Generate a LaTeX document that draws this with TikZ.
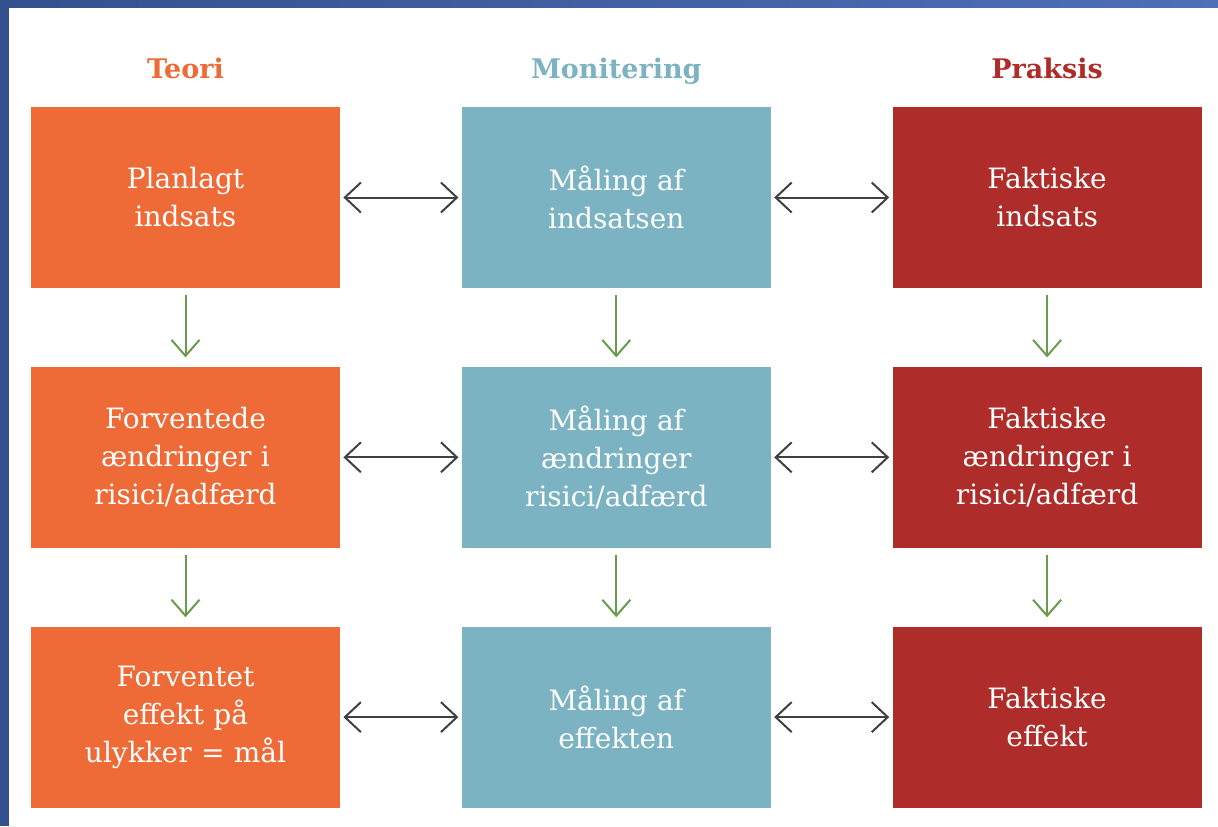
\documentclass[tikz,border=0pt]{standalone}
\usepackage{fontspec}
\setmainfont{DejaVu Serif}
\usetikzlibrary{positioning,arrows.meta}
\definecolor{teoricol}{HTML}{EE6A36}
\definecolor{monicol}{HTML}{7BB3C2}
\definecolor{prakcol}{HTML}{AE2D2A}
\definecolor{pilgreen}{HTML}{6A9A4C}
\definecolor{pilgray}{HTML}{404040}
\definecolor{framedark}{HTML}{34508F}
\definecolor{framelight}{HTML}{4F6FB6}
\tikzset{
box/.style={
  rectangle, minimum width=154.5pt, minimum height=90.5pt,
  text width=150pt, align=center, text=white,
  font=\fontsize{14}{19}\selectfont, inner sep=0pt
  },
teori/.style={box, fill=teoricol},
moni/.style={box, fill=monicol},
prak/.style={box, fill=prakcol},
head/.style={font=\bfseries\fontsize{13.5}{16}\selectfont, anchor=base},
both/.style={{Straight Barb[length=8pt,width=15pt]}-{Straight Barb[length=8pt,width=15pt]},
  line width=1pt, draw=pilgray, shorten >=1.5pt, shorten <=1.5pt},
down/.style={-{Straight Barb[length=8pt,width=14pt]},
  line width=1pt, draw=pilgreen, shorten >=4.5pt, shorten <=3.5pt}
}

\begin{document}
\begin{tikzpicture}
\useasboundingbox (0,0) rectangle (609pt,-413pt);

% frame
\fill[left color=framedark, right color=framelight] (0,0) rectangle (609pt,-3.5pt);
\fill[framedark] (0,0) rectangle (4.5pt,-413pt);

% row 1
\node[teori] (T1) at (92.75pt,-98.75pt) {Planlagt\\indsats};
\node[moni, right=60.5pt of T1] (M1) {Måling af\\indsatsen};
\node[prak, right=60.5pt of M1] (P1) {Faktiske\\indsats};

% row 2
\node[teori, below=39pt of T1] (T2) {Forventede\\ændringer i\\risici/adfærd};
\node[moni, below=39pt of M1] (M2) {Måling af\\ændringer\\risici/adfærd};
\node[prak, below=39pt of P1] (P2) {Faktiske\\ændringer i\\risici/adfærd};

% row 3
\node[teori, below=39pt of T2] (T3) {Forventet\\effekt på\\ulykker = mål};
\node[moni, below=39pt of M2] (M3) {Måling af\\effekten};
\node[prak, below=39pt of P2] (P3) {Faktiske\\effekt};

% headers
\coordinate (hline) at (0,-39pt);
\node[head, text=teoricol] (hT) at (T1 |- hline) {Teori};
\node[head, text=monicol] (hM) at (M1 |- hline) {Monitering};
\node[head, text=prakcol] (hP) at (P1 |- hline) {Praksis};

% arrows
\foreach \r in {1,2,3}{
  \draw[both] (T\r) -- (M\r);
  \draw[both] (M\r) -- (P\r);
}
\foreach \r/\s in {1/2,2/3}{
  \draw[down] (T\r) -- (T\s);
  \draw[down] (M\r) -- (M\s);
  \draw[down] (P\r) -- (P\s);
}

\end{tikzpicture}
\end{document}
